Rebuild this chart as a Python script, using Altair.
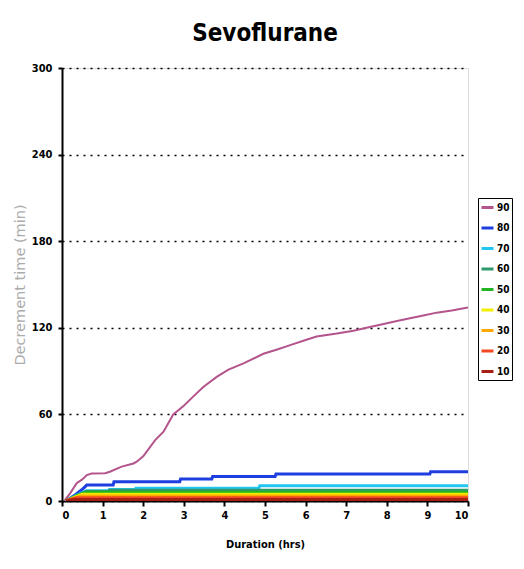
import altair as alt
import pandas as pd

# ---- data ----
hrs_90 = [0.05, 0.2, 0.36, 0.5, 0.61, 0.73, 1.06, 1.18, 1.47, 1.76, 1.84, 2.0, 2.29, 2.5, 2.74,
          3.0, 3.23, 3.48, 3.81, 4.1, 4.47, 4.96, 5.3, 5.62, 6.0, 6.27, 6.77, 7.18, 7.5,
          7.92, 8.25, 8.57, 8.9, 9.23, 9.6, 10.0]
val_90 = [0, 5.3, 12.3, 15, 18, 19, 19.2, 20.3, 23.8, 26, 27.2, 31, 42, 48, 60,
          66, 72.3, 79, 86, 91, 95.4, 102, 105, 108, 111.5, 114, 116, 118, 120,
          122.7, 124.7, 126.6, 128.5, 130.5, 132, 134]

hrs_80 = [0.1, 0.32, 0.48, 0.61, 1.26, 1.28, 2.9, 2.92, 3.69, 3.71, 5.25, 5.27, 9.06, 9.08, 10.0]
val_80 = [0, 4.2, 7.6, 11, 11, 13.4, 13.4, 15.2, 15.2, 16.9, 16.9, 18.7, 18.7, 20.3, 20.3]

hrs_70 = [0.1, 0.35, 0.6, 1.15, 1.17, 1.8, 1.82, 4.85, 4.87, 10.0]
val_70 = [0, 4, 7.1, 7.1, 8.0, 8.0, 8.8, 8.8, 10.6, 10.6]

hrs_60 = [0.1, 0.4, 0.6, 1.15, 1.17, 10.0]
val_60 = [0, 4, 6.5, 6.5, 7.5, 7.5]

hrs_50 = [0.1, 0.35, 0.6, 10.0]
val_50 = [0, 3.5, 6.0, 6.0]

hrs_40 = [0.1, 0.3, 0.5, 10.0]
val_40 = [0, 2.5, 4.6, 4.6]

hrs_30 = [0.1, 0.3, 0.45, 10.0]
val_30 = [0, 2.0, 3.4, 3.4]

hrs_20 = [0.1, 0.25, 0.35, 10.0]
val_20 = [0, 1.5, 2.2, 2.2]

hrs_10 = [0.1, 0.2, 0.3, 10.0]
val_10 = [0, 0.7, 1.0, 1.0]

series_names = ["90", "80", "70", "60", "50", "40", "30", "20", "10"]
series_colors = ["#b4548c", "#1f3ee0", "#22c6f0", "#2e9a6c", "#22b422",
                 "#f2ee00", "#ffa800", "#f04822", "#a82012"]
x_ticks = list(range(0, 11))
y_ticks = [0, 60, 120, 180, 240, 300]

all_hrs = [hrs_90, hrs_80, hrs_70, hrs_60, hrs_50, hrs_40, hrs_30, hrs_20, hrs_10]
all_vals = [val_90, val_80, val_70, val_60, val_50, val_40, val_30, val_20, val_10]

rows = []
for name, hs, vs in zip(series_names, all_hrs, all_vals):
    for i, (h, v) in enumerate(zip(hs, vs)):
        rows.append({"series": name, "hrs": h, "min": v, "i": i})
df = pd.DataFrame(rows)

font = "DejaVu Sans Condensed, Liberation Sans Narrow, Liberation Sans, Arial"

x = alt.X("hrs:Q", scale=alt.Scale(domain=[0, 10], nice=False),
          axis=alt.Axis(values=x_ticks, title="Duration (hrs)", grid=False,
                        domainColor="black", domainWidth=2, tickColor="black",
                        tickWidth=2, tickSize=5, labelFontSize=11, labelFontWeight="bold",
                        labelColor="black", labelFont=font, titleFont=font,
                        titleFontSize=11, titleFontWeight="bold", titleColor="black",
                        titlePadding=18, labelPadding=3))
y = alt.Y("min:Q", scale=alt.Scale(domain=[0, 300], nice=False),
          axis=alt.Axis(values=y_ticks, title="Decrement time (min)",
                        grid=True, gridColor="black", gridDash=[2, 5], gridWidth=1.6,
                        domainColor="black", domainWidth=2, tickColor="black",
                        tickWidth=2, tickSize=4, labelFontSize=11, labelFontWeight="bold",
                        labelColor="black", labelFont=font, titleFont="DejaVu Sans",
                        titleFontSize=14.5, titleFontWeight="normal", titleColor="#ababab",
                        titlePadding=4, labelPadding=6))

color = alt.Color("series:N",
                  scale=alt.Scale(domain=series_names, range=series_colors),
                  legend=alt.Legend(title=None, orient="none", legendX=416, legendY=130,
                                    symbolType="stroke", symbolSize=144,
                                    symbolStrokeWidth=3, labelFontSize=10,
                                    labelFontWeight="bold", labelFont=font,
                                    labelColor="black", rowPadding=6.5, padding=2,
                                    strokeColor="black", fillColor="white",
                                    labelOffset=2))

sw = alt.condition(alt.datum.series == "90", alt.value(2), alt.value(3))

chart = alt.Chart(df).mark_line(clip=True).encode(
    x=x, y=y, color=color, order="i:Q", strokeWidth=sw,
).properties(
    width=406, height=433,
    title=alt.TitleParams("Sevoflurane", fontSize=24, fontWeight="bold", font=font,
                          color="black", offset=16, anchor="middle"),
    padding={"left": 54, "top": 60, "right": 48, "bottom": 58},
    autosize="none",
).configure_view(stroke=None).configure(background="white")

chart.save("out.html", embed_options={"renderer": "svg", "actions": False})
